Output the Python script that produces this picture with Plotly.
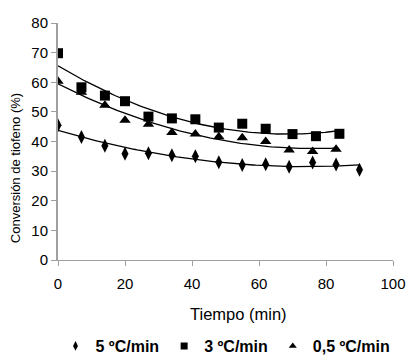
import numpy as np
import plotly.graph_objects as go

# Data
t_5 = [0, 7, 14, 20, 27, 34, 41, 48, 55, 62, 69, 76, 83, 90]
c_5 = [45.5, 41.5, 38.6, 35.9, 36.0, 35.4, 35.0, 33.0, 32.1, 32.3, 31.5, 32.9, 32.2, 30.5]

t_3 = [0, 7, 14, 20, 27, 34, 41, 48, 55, 62, 70, 77, 84]
c_3 = [69.8, 58.3, 55.5, 53.6, 48.4, 47.8, 47.5, 44.7, 46.0, 44.3, 42.5, 41.8, 42.6]

t_05 = [0, 7, 14, 20, 27, 34, 41, 48, 55, 62, 69, 76, 83]
c_05 = [60.3, 56.6, 52.2, 47.2, 45.8, 43.0, 42.5, 41.6, 41.3, 40.0, 37.1, 36.6, 37.4]

x_ticks = [0, 20, 40, 60, 80, 100]
y_ticks = [0, 10, 20, 30, 40, 50, 60, 70, 80]

series = [
    ("5 ºC/min", t_5, c_5, "diamond-tall"),
    ("3 ºC/min", t_3, c_3, "square"),
    ("0,5 ºC/min", t_05, c_05, "triangle-up"),
]

FONT = "Liberation Sans, Arial, sans-serif"
fig = go.Figure()
for name, t, c, sym in series:
    # second-order polynomial trendline fitted to the data
    p = np.polyfit(t, c, 2)
    tt = np.linspace(min(t), max(t), 100)
    fig.add_trace(go.Scatter(x=tt, y=np.polyval(p, tt), mode="lines",
                             line=dict(color="black", width=1.3),
                             showlegend=False, hoverinfo="skip"))
for name, t, c, sym in series:
    fig.add_trace(go.Scatter(x=t, y=c, mode="markers", name=name, showlegend=False,
                             marker=dict(symbol=sym, color="black", size=10)))
# legend entries (small symbols, like the reference)
for name, t, c, sym in series:
    fig.add_trace(go.Scatter(x=[None], y=[None], mode="markers", name=name,
                             marker=dict(symbol=sym, color="black", size=7)))

# the page body adds an 8px offset, so the figure is 8px smaller than the window
fig.update_layout(
    width=406, height=348,
    margin=dict(l=50, r=21, t=15, b=96, autoexpand=False),
    paper_bgcolor="white", plot_bgcolor="white",
    font=dict(family=FONT, size=15, color="black"),
    showlegend=True,
    legend=dict(orientation="h", x=0.50, xanchor="center",
                y=-0.363, yanchor="middle",
                font=dict(size=16, family=FONT, weight="bold"),
                itemwidth=30, tracegroupgap=0),
    annotations=[
        dict(text="Tiempo (min)", xref="paper", yref="paper", x=0.54, y=-0.228,
             xanchor="center", yanchor="middle", showarrow=False,
             font=dict(size=16.5, family=FONT)),
        dict(text="Conversión de tiofeno (%)", xref="paper", yref="paper",
             x=-0.128, y=0.388, xanchor="center", yanchor="middle", textangle=-90,
             showarrow=False,
             font=dict(size=13, family=FONT)),
    ],
)
fig.update_xaxes(range=[0, 100], tickvals=x_ticks, showgrid=False, zeroline=False,
                 showline=True, linecolor="#a0a0a0", linewidth=1,
                 ticks="outside", ticklen=5, tickcolor="#a0a0a0",
                 ticklabelstandoff=5, tickfont=dict(size=15), automargin=False)
fig.update_yaxes(range=[0, 80], tickvals=y_ticks, showgrid=False, zeroline=False,
                 showline=True, linecolor="#a0a0a0", linewidth=2,
                 ticks="outside", ticklen=5, tickcolor="#a0a0a0",
                 ticklabelstandoff=0, tickfont=dict(size=15), automargin=False)

fig.write_html("out.html")
